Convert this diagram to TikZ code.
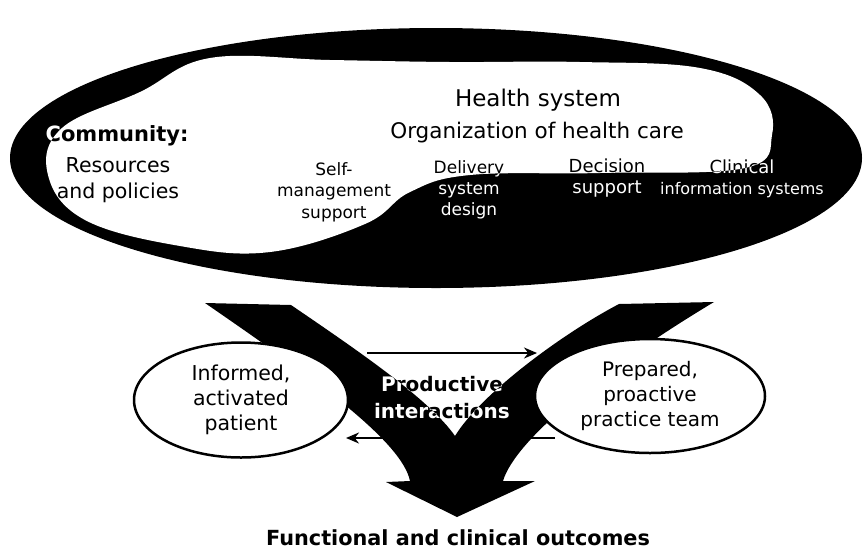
\documentclass[tikz,border=0pt]{standalone}
\usepackage{fontspec}
\setmainfont{DejaVu Sans}
\usetikzlibrary{shapes.geometric,arrows.meta}
\begin{document}
\begin{tikzpicture}[x=1pt,y=-1pt,
  oval/.style={ellipse, draw=black, line width=2.5pt, fill=white, inner sep=0pt,
    align=center, font=\fontsize{20.5}{25}\selectfont},
  lbl/.style={inner sep=0pt, align=center, text=white},
  link/.style={line width=2pt, -{Stealth[length=13pt,width=11pt]}},
]
\useasboundingbox (0,0) rectangle (867,550);
\fill[white] (0,0) rectangle (867,550);
% community (outer ellipse)
\fill[black] (436,158) ellipse [x radius=426pt, y radius=130pt];
% health system (inner light region)
\fill[white] plot[smooth cycle, tension=0.65] coordinates {
  (210,58) (330,60) (450,62) (580,62) (700,68) (760,95) (772,135) (745,168)
  (600,173) (470,175) (410,192) (365,224) (270,252) (180,246) (85,220)
  (48,175) (62,128) (140,92)};
% V-shaped arrow
\fill[black] (205,303) -- (291,305)
  .. controls (360,352) and (430,400) .. (455,436)
  .. controls (480,395) and (560,335) .. (619,304)
  -- (714,302)
  .. controls (604,368) and (515,440) .. (503,481)
  -- (535,481) -- (457,517) -- (386,482) -- (410,481)
  .. controls (402,440) and (305,372) .. (205,303) -- cycle;
% texts on the ellipse
\begin{scope}[blend mode=difference]
  \node[lbl, font=\fontsize{23}{26}\selectfont] (hs) at (538,100) {Health system};
  \node[lbl, font=\fontsize{21.5}{24}\selectfont] (org) at (537,133) {Organization of health care};
  \node[lbl, font=\bfseries\fontsize{21}{24}\selectfont] (com) at (117,136) {Community:};
  \node[lbl, font=\fontsize{20.5}{26}\selectfont] (res) at (118,180) {Resources\\and policies};
  \node[lbl, font=\fontsize{17}{21.5}\selectfont] (sms) at (334,192) {Self-\\management\\support};
  \node[lbl, font=\fontsize{17}{21}\selectfont] (dsd) at (469,190) {Delivery\\system\\design};
  \node[lbl, font=\fontsize{18}{21}\selectfont] (dsu) at (607,178.5) {Decision\\support};
  \node[lbl, font=\fontsize{18}{21}\selectfont] (cis) at (742,178.5) {Clinical\\{\fontsize{16}{21}\selectfont information systems}};
\end{scope}
% patient and team
\node[oval, minimum width=214pt, minimum height=115pt] (pat) at (241,400) {Informed,\\activated\\patient};
\node[oval, minimum width=230pt, minimum height=114pt, font=\fontsize{20}{25}\selectfont] (team) at (650,396) {Prepared,\\proactive\\practice team};
% interactions
\coordinate (ta) at (367,353);
\coordinate (tb) at (537,353);
\coordinate (ba) at (555,438);
\coordinate (bb) at (346,438);
\draw[link] (ta) -- (tb);
\draw[link] (ba) -- (bb);
\begin{scope}[blend mode=difference]
  \node[lbl, font=\bfseries\fontsize{20}{27}\selectfont] (pi) at (442,398) {Productive\\interactions};
\end{scope}
\node[inner sep=0pt, font=\bfseries\fontsize{20.8}{25}\selectfont] (out) at (458,538) {Functional and clinical outcomes};
\end{tikzpicture}
\end{document}
